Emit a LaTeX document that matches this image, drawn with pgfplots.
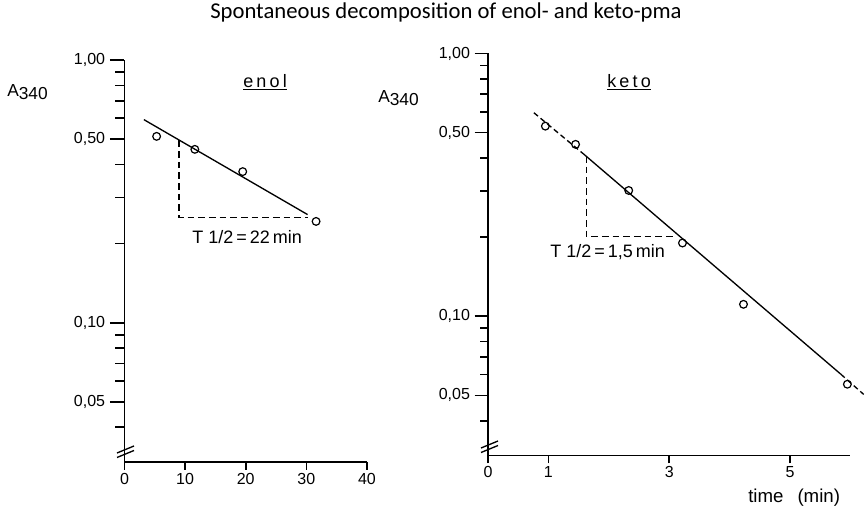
\documentclass[border=0pt]{standalone}
\usepackage{pgfplots}
\pgfplotsset{compat=1.18}
\usepackage{fontspec}
\setmainfont{Liberation Sans}
\newfontfamily\titlefont{Carlito}
\newfontfamily\spacedfont[LetterSpace=18]{Liberation Sans}

\begin{document}
\begin{tikzpicture}
\path[use as bounding box] (0,0) rectangle (648.75pt,383.25pt);

% left: enol
\begin{axis}[scale only axis, anchor=south west, clip=false,
    at={(93.375pt,36.75pt)}, width=181.875pt, height=301.5pt,
    xmin=0, xmax=40, xtick=\empty,
    extra x ticks={0,10,20,30,40}, extra x tick labels={0,10,20,30,40},
    extra x tick style={major tick length=6pt},
    ymode=log, ymin=0.0295, ymax=1,
    axis x line*=bottom, axis y line*=left,
    axis line style={-, line width=1.4pt},
    ytick={0.05,0.1,0.5,1}, yticklabels={{0,05},{0,10},{0,50},{1,00}},
    minor ytick={0.04,0.06,0.07,0.08,0.09,0.2,0.3,0.4,0.6,0.7,0.8,0.9},
    tick align=outside, major tick length=11pt, minor tick length=7pt,
    tick style={line width=1.2pt, black},
    tick label style={font=\fontsize{12}{12}\selectfont},
    xticklabel style={yshift=1pt}]
  \addplot[black, line width=1pt, no marks] coordinates {(3.2,0.593) (30.2,0.258)};
  \addplot[black, line width=1pt, dash pattern=on 5pt off 3pt, no marks] coordinates {(9.0,0.494) (9.0,0.252) (30.2,0.252)};
  \addplot[black, only marks, mark=o, mark size=2.9pt, mark options={line width=0.9pt}] coordinates {(5.3,0.512) (11.6,0.457) (19.5,0.376) (31.6,0.243)};
\end{axis}

% right: keto
\begin{axis}[scale only axis, anchor=south west, clip=false,
    at={(366pt,41.625pt)}, width=271.8pt, height=301.5pt,
    xmin=0, xmax=6.0, xtick=\empty,
    extra x ticks={0,1,3,5}, extra x tick labels={0,1,3,5},
    extra x tick style={major tick length=6pt},
    ymode=log, ymin=0.0295, ymax=1,
    axis x line*=bottom, axis y line*=left,
    axis line style={-, line width=1.4pt},
    ytick={0.05,0.1,0.5,1}, yticklabels={{0,05},{0,10},{0,50},{1,00}},
    minor ytick={0.04,0.06,0.07,0.08,0.09,0.2,0.3,0.4,0.6,0.7,0.8,0.9},
    tick align=outside, major tick length=10pt, minor tick length=6pt,
    tick style={line width=1.2pt, black},
    tick label style={font=\fontsize{12}{12}\selectfont},
    xticklabel style={yshift=1pt}]
  \addplot[black, line width=1pt, no marks, dash pattern=on 4pt off 2.5pt] coordinates {(0.76,0.595) (1.59,0.413)};
  \addplot[black, line width=1pt, no marks] coordinates {(1.59,0.413) (5.84,0.0602)};
  \addplot[black, line width=1pt, no marks, dash pattern=on 4pt off 2.5pt] coordinates {(5.84,0.0602) (6.22,0.0504)};
  \addplot[black, line width=1pt, dash pattern=on 5pt off 3pt, no marks] coordinates {(1.63,0.407) (1.63,0.2009) (3.1,0.2009)};
  \addplot[black, only marks, mark=o, mark size=2.9pt, mark options={line width=0.9pt}] coordinates {(0.95,0.529) (1.45,0.451) (2.33,0.301) (3.22,0.19) (4.23,0.111) (5.95,0.0551)};
\end{axis}

\begin{scope}[x=0.75pt, y=-0.75pt, yshift=383.25pt]
  \node[font=\titlefont\fontsize{17}{17}\selectfont] at (446,12) {Spontaneous decomposition of enol- and keto-pma};
  \node[font=\fontsize{13}{13}\selectfont, anchor=west, inner sep=0] at (7,92) {A\raisebox{-0.4ex}{340}};
  \node[font=\fontsize{13}{13}\selectfont, anchor=west, inner sep=0] at (378,98) {A\raisebox{-0.4ex}{340}};
  \node[font=\spacedfont\fontsize{13.5}{13.5}\selectfont, anchor=west, inner sep=0] at (243,82) {\underline{enol}};
  \node[font=\spacedfont\fontsize{13.5}{13.5}\selectfont, anchor=west, inner sep=0] at (607,82) {\underline{keto}};
  \node[font=\fontsize{13.5}{13.5}\selectfont, anchor=west, inner sep=0] at (192,237) {T 1/2\,=\,22\,min};
  \node[font=\fontsize{13.5}{13.5}\selectfont, anchor=west, inner sep=0] at (550,252) {T 1/2\,=\,1,5\,min};
  \node[font=\fontsize{14}{14}\selectfont, anchor=west, inner sep=0] at (748,498) {time\hspace{0.75em}(min)};
  \draw[line width=1pt] (117,453) -- (134,446) (117,457.5) -- (134,450.5);
  \draw[line width=1pt] (481,448) -- (498,441) (481,452.5) -- (498,445.5);
\end{scope}
\end{tikzpicture}
\end{document}
